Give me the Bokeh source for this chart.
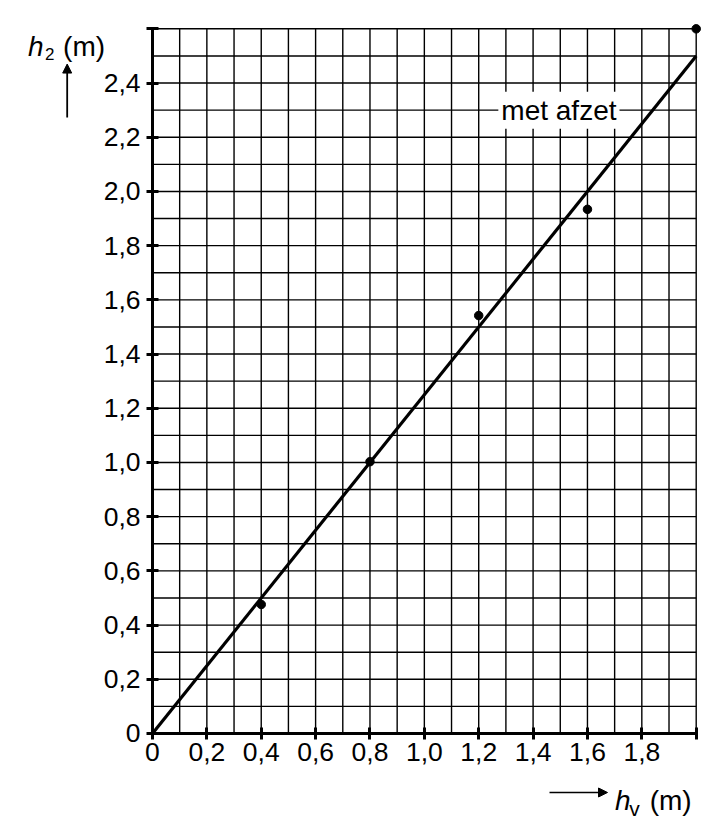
import numpy as np
from bokeh.plotting import figure
from bokeh.models import (Range1d, FixedTicker, CustomJSTickFormatter, Label,
                          Arrow, NormalHead)
from bokeh.embed import file_html
from bokeh.resources import INLINE

# ---- data ----
hv = [0.4, 0.8, 1.2, 1.6, 2.0]
h2 = [0.476, 1.003, 1.542, 1.934, 2.6]
fit_x = [0.0, 2.0]
fit_y = [0.0, 2.5]
x_ticks = [0.0, 0.2, 0.4, 0.6, 0.8, 1.0, 1.2, 1.4, 1.6, 1.8, 2.0]
y_ticks = [0.0, 0.2, 0.4, 0.6, 0.8, 1.0, 1.2, 1.4, 1.6, 1.8, 2.0, 2.2, 2.4, 2.6]
x_max = 2.0
y_max = 2.6
grid_step = 0.1
curve_label = "met afzet"

FONT = "Liberation Sans"
W, H = 706, 821

# frame covers the whole canvas; axes are pinned at the data origin
p = figure(width=W, height=H, output_backend="svg", toolbar_location=None,
           x_range=Range1d(-0.5591, 2.0379), y_range=Range1d(-0.3247, 2.7045),
           min_border_left=0, min_border_right=0, min_border_top=0,
           min_border_bottom=0, title=None)
p.outline_line_color = None
p.background_fill_color = "white"
p.xgrid.visible = False
p.ygrid.visible = False

# grid every 0.1
gx = np.round(np.arange(1, int(round(x_max / grid_step)) + 1) * grid_step, 3)
gy = np.round(np.arange(1, int(round(y_max / grid_step)) + 1) * grid_step, 3)
p.segment(x0=gx, y0=np.zeros_like(gx), x1=gx, y1=np.full_like(gx, y_max),
          line_color="black", line_width=1.4)
p.segment(x0=np.zeros_like(gy), y0=gy, x1=np.full_like(gy, x_max), y1=gy,
          line_color="black", line_width=1.4)

# fit line and measured points
p.line(fit_x, fit_y, line_color="black", line_width=3.2)
p.scatter(hv, h2, size=8.5, fill_color="black", line_color="black")

for ax, ticks, lim in ((p.xaxis[0], x_ticks, x_max), (p.yaxis[0], y_ticks, y_max)):
    ax.fixed_location = 0
    ax.ticker = FixedTicker(ticks=ticks)
    ax.formatter = CustomJSTickFormatter(args=dict(lim=lim), code="""
        if (Math.abs(tick) < 1e-9) return "0";
        if (tick > lim - 1e-9) return "";
        return tick.toFixed(1).replace(".", ",");
    """)
    ax.bounds = (0, lim)
    ax.axis_line_width = 3
    ax.axis_line_color = "black"
    ax.major_tick_line_width = 3
    ax.major_tick_line_color = "black"
    ax.major_tick_in = 6
    ax.major_tick_out = 6
    ax.minor_tick_line_color = None
    ax.major_label_text_font = FONT
    ax.major_label_text_font_size = "26.5px"
    ax.major_label_text_color = "black"
p.xaxis.major_label_standoff = 4
p.yaxis.major_label_standoff = 6

p.add_layout(Label(x=1.495, y=2.3, text=curve_label, text_align="center",
                   text_baseline="middle", text_font=FONT, text_font_size="28px",
                   text_color="black", background_fill_color="white",
                   padding=3))

def lab(x, y, text, size, italic=False):
    return Label(x=x, y=y, text=text, text_font=FONT,
                 text_font_style="italic" if italic else "normal",
                 text_font_size=size, text_baseline="alphabetic", text_color="black")

head = dict(fill_color="black", line_color="black")

# y-axis title (top-left)
p.add_layout(lab(-0.4580, 2.5348, "h", "28px", True))
p.add_layout(lab(-0.3950, 2.5078, "2", "17px"))
p.add_layout(lab(-0.3290, 2.5348, "(m)", "28px"))
p.add_layout(Arrow(x_start=-0.3138, y_start=2.2728, x_end=-0.3138, y_end=2.4700,
                   line_width=1.8, line_color="black",
                   end=NormalHead(size=9, **head)))

# x-axis title (bottom-right)
p.add_layout(Arrow(x_start=1.4604, y_start=-0.2177, x_end=1.6738, y_end=-0.2177,
                   line_width=1.5, line_color="black",
                   end=NormalHead(size=9, **head)))
p.add_layout(lab(1.7010, -0.2472, "h", "28px", True))
p.add_layout(lab(1.7540, -0.2756, "v", "21px"))
p.add_layout(lab(1.8290, -0.2472, "(m)", "28px"))

open("out.html", "w").write(file_html(p, INLINE))
